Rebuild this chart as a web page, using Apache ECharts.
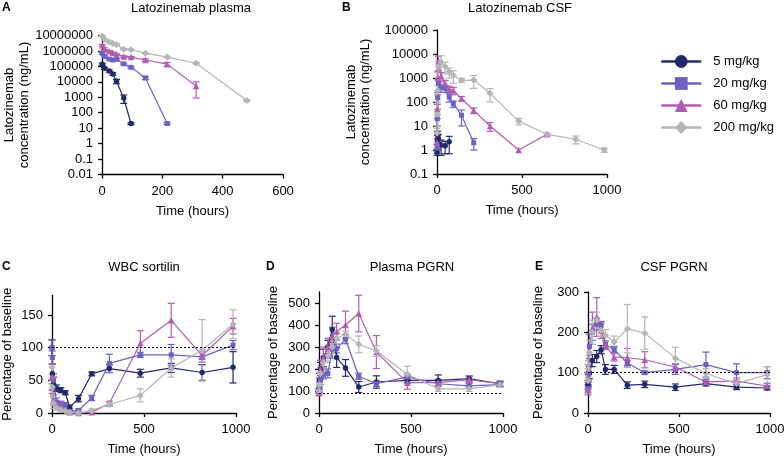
<!DOCTYPE html>
<html><head><meta charset="utf-8">
<script src="https://cdn.jsdelivr.net/npm/echarts@6/dist/echarts.min.js"></script>
<style>html,body{margin:0;padding:0;background:#fff}#c{width:784px;height:457px}</style>
</head><body><div id="c"></div>
<script>
// ---------- data ----------
const doseNames = ['5 mg/kg', '20 mg/kg', '60 mg/kg', '200 mg/kg'];

const plasmaTickLabels = ['0.01','0.1','1','10','100','1000','10000','100000','1000000','10000000'];
const csfTickLabels = ['0.1','1','10','100','1000','10000','100000'];

// A: Latozinemab plasma (ng/mL)
const plasmaTimes = [1, 8, 24, 36, 48, 72, 96, 144, 216, 312, 480];
const plasma5 = [140000, 75000, 50000, 32000, 11000, 900, 20];
const plasma5Sd = [20000, 10000, 8000, 6000, 3500, 500, 3];
const plasma20 = [720000, 440000, 300000, 260000, 290000, 145000, 87000, 18000, 20];
const plasma20Sd = [100000, 50000, 40000, 30000, 40000, 20000, 10000, 4000, 3];
const plasma60 = [2300000, 1400000, 950000, 750000, 600000, 440000, 400000, 260000, 140000, 5400];
const plasma60Sd = [300000, 200000, 100000, 80000, 60000, 50000, 40000, 50000, 40000, 4500];
const plasma200 = [9000000, 5500000, 3800000, 3000000, 2600000, 1300000, 1200000, 720000, 400000, 160000, 620];
const plasma200Sd = [1000000, 500000, 400000, 300000, 300000, 150000, 100000, 60000, 40000, 20000, 80];

// B: Latozinemab CSF (ng/mL)
const csfTimes = [0.5, 2, 4, 8, 24, 48, 72, 96, 144, 216, 312, 480, 648, 816, 984];
const csf5 = [0.8, 2.6, 4, 3, 1.6, 1.5, 2.2];
const csf5Sd = [0.2, 1.5, 2, 1.5, 1, 0.8, 1.5];
const csf20 = [1.2, 20, 150, 600, 400, 370, 160, 85, 28, 2];
const csf20Sd = [0.5, 10, 100, 300, 150, 120, 60, 25, 18, 1];
const csf60 = [2, 50, 1000, 5000, 1200, 600, 350, 300, 140, 45, 10, 1, 4.5];
const csf60Sd = [1, 30, 800, 3000, 500, 200, 100, 100, 30, 12, 4, 0, 0];
const csf200 = [5, 30, 300, 3000, 4500, 3000, 1800, 1300, 800, 820, 230, 16, 4.5, 2.8, 1];
const csf200Sd = [3, 20, 200, 2000, 4000, 1500, 800, 700, 150, 450, 130, 5, 0.5, 1, 0.2];

// C, D, E: percentage of baseline
const pdTimes = [0, 2, 8, 24, 48, 72, 96, 144, 216, 312, 480, 648, 816, 984];
const sortilin5 = [100, 60, 45, 38, 35, 31, 9, 22, 60, 68, 61, 69, 62, 70];
const sortilin5Sd = [12, 15, 10, 5, 4, 3, 3, 5, 3, 6, 6, 7, 12, 24];
const sortilin20 = [100, 85, 50, 17, 14, 12, 2, 4, 23, 76, 89, 89, 86, 104];
const sortilin20Sd = [12, 10, 10, 6, 4, 4, 2, 2, 4, 14, 4, 16, 8, 7];
const sortilin60 = [55, 40, 20, 14, 12, 5, 1, 0, 1, 15, 107, 142, 88, 133];
const sortilin60Sd = [20, 10, 8, 5, 5, 3, 1, 0, 1, 3, 19, 26, 6, 12];
const sortilin200 = [70, 40, 15, 8, 5, 3, 1, 0, 4, 13, 27, 69, 96, 136];
const sortilin200Sd = [25, 15, 8, 4, 3, 2, 1, 0, 2, 3, 10, 14, 47, 22];

const plasmaPgrn5 = [100, 150, 200, 250, 300, 380, 252, 205, 118, 141, 148, 148, 156, 133];
const plasmaPgrn5Sd = [10, 30, 30, 40, 30, 60, 45, 38, 25, 28, 12, 25, 12, 12];
const plasmaPgrn20 = [100, 120, 150, 175, 180, 290, 293, 335, 167, 133, 164, 133, 123, 129];
const plasmaPgrn20Sd = [10, 20, 20, 20, 20, 40, 20, 20, 14, 12, 12, 10, 10, 10];
const plasmaPgrn60 = [90, 130, 200, 250, 300, 350, 370, 400, 452, 277, 138, 138, 152, 133];
const plasmaPgrn60Sd = [10, 30, 40, 50, 40, 40, 38, 63, 83, 75, 30, 15, 15, 10];
const plasmaPgrn200 = [100, 130, 180, 230, 260, 300, 340, 358, 312, 282, 176, 110, 110, 129];
const plasmaPgrn200Sd = [20, 30, 30, 30, 30, 30, 25, 15, 38, 25, 36, 12, 12, 10];

const csfPgrn5 = [70, 80, 100, 130, 140, 157, 108, 108, 69, 71, 64, 73, 64, 62];
const csfPgrn5Sd = [10, 15, 15, 15, 15, 10, 12, 10, 8, 8, 8, 6, 6, 5];
const csfPgrn20 = [60, 100, 165, 200, 220, 217, 170, 157, 124, 100, 108, 120, 100, 100];
const csfPgrn20Sd = [10, 20, 30, 20, 15, 10, 10, 8, 6, 4, 12, 31, 22, 15];
const csfPgrn60 = [60, 90, 150, 210, 238, 205, 168, 139, 137, 132, 114, 77, 79, 67];
const csfPgrn60Sd = [15, 20, 30, 40, 48, 20, 10, 10, 23, 20, 8, 6, 8, 6];
const csfPgrn200 = [80, 110, 150, 200, 230, 205, 193, 176, 209, 198, 136, 98, 73, 95];
const csfPgrn200Sd = [20, 20, 30, 30, 20, 15, 14, 15, 60, 40, 27, 12, 10, 20];

const baselineLevels = [100, 90, 100]; // dotted reference line in C, D, E

// ---------- styling / building ----------
const FONT = '"Liberation Sans", Arial, Helvetica, sans-serif';
const colors = ['#232a6c', '#6b62c2', '#b25cb1', '#b5b5b5'];
const symbols = ['circle', 'rect', 'triangle', 'diamond'];
const symbolSizes = [5.5, 5, 6.5, 7];

const panels = [
  { times: plasmaTimes, vals: [plasma5, plasma20, plasma60, plasma200], sds: [plasma5Sd, plasma20Sd, plasma60Sd, plasma200Sd], floor: 0.01 },
  { times: csfTimes, vals: [csf5, csf20, csf60, csf200], sds: [csf5Sd, csf20Sd, csf60Sd, csf200Sd], floor: 0.1 },
  { times: pdTimes, vals: [sortilin5, sortilin20, sortilin60, sortilin200], sds: [sortilin5Sd, sortilin20Sd, sortilin60Sd, sortilin200Sd], floor: 0 },
  { times: pdTimes, vals: [plasmaPgrn5, plasmaPgrn20, plasmaPgrn60, plasmaPgrn200], sds: [plasmaPgrn5Sd, plasmaPgrn20Sd, plasmaPgrn60Sd, plasmaPgrn200Sd], floor: 0 },
  { times: pdTimes, vals: [csfPgrn5, csfPgrn20, csfPgrn60, csfPgrn200], sds: [csfPgrn5Sd, csfPgrn20Sd, csfPgrn60Sd, csfPgrn200Sd], floor: 0 }
];

function pairs(times, vals) { return vals.map((v, i) => [times[i], v]); }
function errData(times, vals, sds, floor) {
  const out = [];
  vals.forEach((v, i) => {
    const s = sds[i];
    if (!s) return;
    let lo = v - s;
    if (lo < floor) lo = floor;
    out.push([times[i], lo, v + s]);
  });
  return out;
}
function renderErr(color) {
  return function (params, api) {
    const x = api.value(0);
    const a = api.coord([x, api.value(1)]);
    const b = api.coord([x, api.value(2)]);
    const h = 3.5;
    const st = { stroke: color, lineWidth: 1.2 };
    return { type: 'group', children: [
      { type: 'line', shape: { x1: a[0], y1: a[1], x2: b[0], y2: b[1] }, style: st },
      { type: 'line', shape: { x1: a[0] - h, y1: a[1], x2: a[0] + h, y2: a[1] }, style: st },
      { type: 'line', shape: { x1: b[0] - h, y1: b[1], x2: b[0] + h, y2: b[1] }, style: st }
    ]};
  };
}

const axLine = { show: true, onZero: false, lineStyle: { color: '#000', width: 1.3 } };
const axTickStyle = { color: '#000', width: 1.3 };
const lblStyle = { fontSize: 13, color: '#000', fontFamily: FONT };
const nameStyle = { fontSize: 13, color: '#000', fontFamily: FONT, lineHeight: 14.5 };

function xAx(gi, max, interval) {
  return { gridIndex: gi, type: 'value', min: 0, max: max, interval: interval,
    name: 'Time (hours)', nameLocation: 'middle', nameGap: 29.5, nameTextStyle: nameStyle,
    axisLine: axLine, axisTick: { show: true, length: 4, lineStyle: axTickStyle },
    axisLabel: Object.assign({ margin: 10, formatter: v => String(v) }, lblStyle), splitLine: { show: false } };
}
function yVal(gi, max, ticks, gap) {
  return { gridIndex: gi, type: 'value', min: 0, max: max,
    name: 'Percentage of baseline', nameLocation: 'middle', nameGap: gap, nameTextStyle: nameStyle,
    axisLine: axLine, axisTick: { show: true, length: 4, customValues: ticks, lineStyle: axTickStyle },
    axisLabel: Object.assign({ margin: 9, customValues: ticks, formatter: v => String(v) }, lblStyle), splitLine: { show: false } };
}
function yLog(gi, min, max, labels, gap) {
  const e0 = Math.round(Math.log10(min));
  return { gridIndex: gi, type: 'log', logBase: 10, min: min, max: max,
    name: 'Latozinemab\nconcentration (ng/mL)', nameLocation: 'middle', nameGap: gap, nameTextStyle: nameStyle,
    axisLine: axLine, axisTick: { show: true, length: 4, lineStyle: axTickStyle },
    minorTick: { show: false }, minorSplitLine: { show: false },
    axisLabel: Object.assign({ margin: 9, formatter: v => labels[Math.round(Math.log10(v)) - e0] }, lblStyle),
    splitLine: { show: false } };
}

const grids = [
  { left: 102, top: 35.5, width: 181, height: 139 },
  { left: 437, top: 30, width: 170, height: 144 },
  { left: 52, top: 295.5, width: 184, height: 117.5 },
  { left: 319, top: 292, width: 184, height: 121 },
  { left: 588, top: 292, width: 182, height: 121 }
].map(g => Object.assign({ outerBoundsMode: 'none', containLabel: false }, g));

const xAxes = [xAx(0, 600, 200), xAx(1, 1000, 500), xAx(2, 1000, 500), xAx(3, 1000, 500), xAx(4, 1000, 500)];
const yAxes = [
  yLog(0, 0.01, 10000000, plasmaTickLabels, 70),
  yLog(1, 0.1, 100000, csfTickLabels, 64),
  yVal(2, 180, [0, 50, 100, 150], 37.5),
  yVal(3, 550, [0, 100, 200, 300, 400, 500], 38),
  yVal(4, 300, [0, 100, 200, 300], 42)
];

const lineSeries = [], errSeries = [];
panels.forEach((p, gi) => {
  p.vals.forEach((vals, d) => {
    const s = {
      type: 'line', name: doseNames[d], xAxisIndex: gi, yAxisIndex: gi,
      data: pairs(p.times, vals), clip: false, z: 3,
      symbol: symbols[d], symbolSize: symbolSizes[d], showSymbol: true,
      lineStyle: { color: colors[d], width: 1.2 }, itemStyle: { color: colors[d] },
      emphasis: { disabled: true }, silent: true
    };
    if (gi >= 2 && d === 0) {
      s.markLine = { silent: true, symbol: ['none', 'none'], label: { show: false },
        lineStyle: { color: '#000', type: [2, 2], width: 1 },
        data: [{ yAxis: baselineLevels[gi - 2] }] };
    }
    lineSeries.push(s);
    errSeries.push({
      type: 'custom', name: doseNames[d], xAxisIndex: gi, yAxisIndex: gi, z: 2,
      data: errData(p.times, vals, p.sds[d], p.floor),
      encode: { x: 0, y: [1, 2] }, renderItem: renderErr(colors[d]), silent: true
    });
  });
});

const ttl = (text, left, top, bold) => ({ text: text, left: left, top: top, padding: 0,
  textAlign: bold ? 'left' : 'center',
  textStyle: { fontSize: bold ? 12 : 13, fontWeight: bold ? 'bold' : 'normal', color: '#000', fontFamily: FONT } });

const option = {
  animation: false,
  backgroundColor: '#fff',
  title: [
    ttl('A', 2, 2, true), ttl('Latozinemab plasma', 191, 2),
    ttl('B', 342, 2, true), ttl('Latozinemab CSF', 520, 2),
    ttl('C', 2, 261, true), ttl('WBC sortilin', 144, 261),
    ttl('D', 266, 261, true), ttl('Plasma PGRN', 412, 261),
    ttl('E', 535, 261, true), ttl('CSF PGRN', 674, 261)
  ],
  legend: {
    data: doseNames, orient: 'vertical', left: 660, top: 55,
    itemWidth: 40, itemHeight: 16, itemGap: 9, padding: 0,
    lineStyle: { width: 2.5 },
    textStyle: { fontSize: 13, color: '#000', fontFamily: FONT, padding: [0, 0, 0, 7] },
    selectedMode: true
  },
  grid: grids,
  xAxis: xAxes,
  yAxis: yAxes,
  series: lineSeries.concat(errSeries)
};

const chart = echarts.init(document.getElementById('c'), null, { renderer: 'canvas', width: 784, height: 457 });
chart.setOption(option);
</script>
</body></html>
